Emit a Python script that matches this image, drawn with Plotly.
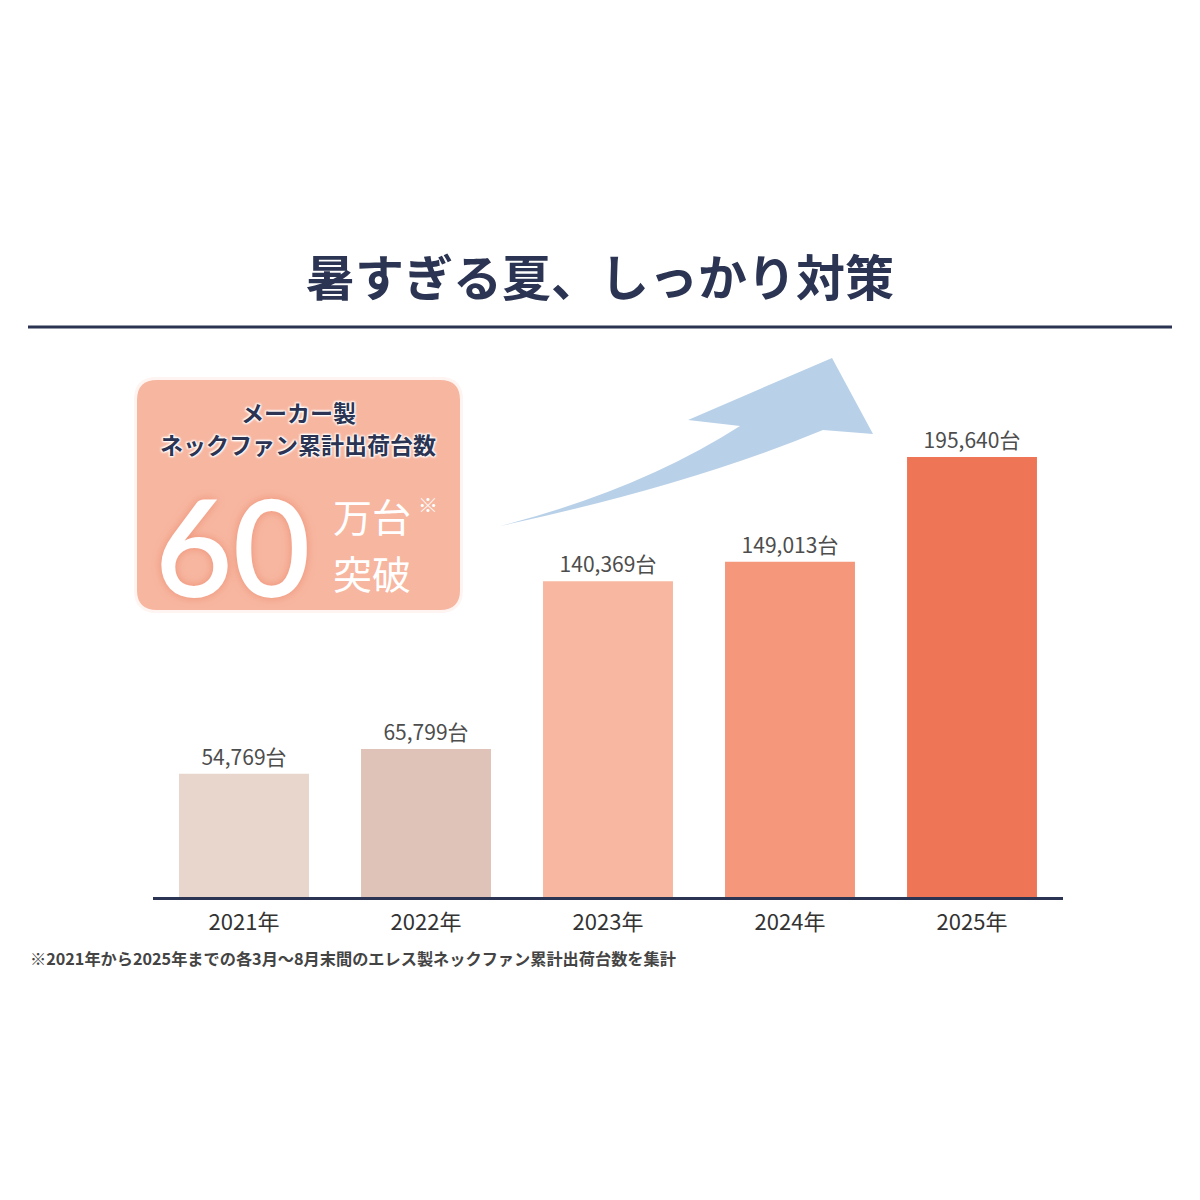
import plotly.graph_objects as go

# chart data
years = ["2021年", "2022年", "2023年", "2024年", "2025年"]
units = [54769, 65799, 140369, 149013, 195640]
bar_colors = ["#E8D6CD", "#DFC3B8", "#F8B7A0", "#F4977B", "#EE7657"]

title_text = "暑すぎる夏、しっかり対策"
badge_lines = ["メーカー製", "ネックファン累計出荷台数"]
badge_big = "60"
footnote = "※2021年から2025年までの各3月～8月末間のエレス製ネックファン累計出荷台数を集計"

# page has an 8px body margin, so the figure is a bit smaller and coordinates are shifted
OFF = 8
W = H = 1200 - OFF
JP = "Noto Sans CJK JP"
NAVY = "#2B3452"


def px(x):
    return (x - OFF) / W


def py(y):
    return 1 - (y - OFF) / H


def rounded_rect(x0, y0, x1, y1, r):
    return (
        f"M {px(x0 + r)},{py(y0)} L {px(x1 - r)},{py(y0)} "
        f"Q {px(x1)},{py(y0)} {px(x1)},{py(y0 + r)} L {px(x1)},{py(y1 - r)} "
        f"Q {px(x1)},{py(y1)} {px(x1 - r)},{py(y1)} L {px(x0 + r)},{py(y1)} "
        f"Q {px(x0)},{py(y1)} {px(x0)},{py(y1 - r)} L {px(x0)},{py(y0 + r)} "
        f"Q {px(x0)},{py(y0)} {px(x0 + r)},{py(y0)} Z"
    )


def arrow_path():
    p = lambda x, y: f"{px(x):.4f},{py(y):.4f}"
    return (
        f"M {p(500, 526)} Q {p(640, 490)} {p(740, 426)} L {p(688, 420)} L {p(832, 358)} "
        f"L {p(873, 434)} L {p(823, 430)} Q {p(690, 485)} {p(500, 526)} Z"
    )


# plot area: baseline at y=897, 440px for the largest bar
base_y, top_y = 897, 357
ymax = (base_y - top_y) * max(units) / 440

fig = go.Figure()
fig.add_trace(
    go.Bar(
        x=years,
        y=units,
        marker=dict(color=bar_colors, line=dict(width=0)),
        text=[f"{v:,}台" for v in units],
        textposition="outside",
        textfont=dict(family=JP, size=21, color="#4D4D4D"),
        constraintext="none",
        cliponaxis=False,
        hoverinfo="skip",
    )
)

shapes = [
    # header rule
    dict(type="line", xref="paper", yref="paper", x0=px(28), x1=px(1172), y0=py(327), y1=py(327),
         line=dict(color=NAVY, width=3)),
    # badge glow + badge
    dict(type="path", xref="paper", yref="paper", path=rounded_rect(134, 377, 463, 613, 23),
         fillcolor="rgba(246,180,158,0.15)", line=dict(width=0), layer="below"),
    dict(type="path", xref="paper", yref="paper", path=rounded_rect(137, 380, 460, 610, 20),
         fillcolor="#F7B6A0", line=dict(width=0), layer="below"),
    # rising arrow
    dict(type="path", xref="paper", yref="paper", path=arrow_path(),
         fillcolor="#B9D1E8", line=dict(width=0), layer="below"),
]

outline = "1px 1px 2px #ffffff, -1px -1px 2px #ffffff, 1px -1px 2px #ffffff, -1px 1px 2px #ffffff"


def note(text, x, y, size, color, family=JP, xanchor="center", shadow=None, weight=None):
    font = dict(family=family, size=size, color=color)
    if shadow:
        font["shadow"] = shadow
    if weight:
        font["weight"] = weight
    return dict(text=text, x=px(x), y=py(y), xref="paper", yref="paper", xanchor=xanchor,
                yanchor="middle", showarrow=False, font=font)


annotations = [
    note(f"<b>{title_text}</b>", 600, 275, 49, NAVY),
    note(f"<b>{badge_lines[0]}</b>", 298, 412, 23, NAVY, shadow=outline),
    note(f"<b>{badge_lines[1]}</b>", 298, 444, 23, NAVY, shadow=outline),
    note(badge_big, 232, 545, 134, "#FFFFFF", family="Lato", weight=600,
         shadow="0px 0px 8px rgba(235,130,100,0.7)"),
    note("万台", 372, 515, 39, "#FFFFFF"),
    note("突破", 372, 572, 39, "#FFFFFF"),
    note("※", 428, 505, 20, "#FFFFFF"),
    note(f"<b>{footnote}</b>", 28, 958, 16.2, "#444444", xanchor="left"),
]

fig.update_layout(
    width=W,
    height=H,
    margin=dict(l=0, r=0, t=0, b=0),
    paper_bgcolor="#FFFFFF",
    plot_bgcolor="#FFFFFF",
    showlegend=False,
    bargap=0.286,
    shapes=shapes,
    annotations=annotations,
    xaxis=dict(
        domain=[px(153), px(1063)],
        range=[-0.5, 4.5],
        showline=True,
        linecolor=NAVY,
        linewidth=3,
        showgrid=False,
        zeroline=False,
        ticks="",
        tickfont=dict(family=JP, size=22, color="#333333"),
        ticklabelstandoff=4,
        fixedrange=True,
    ),
    yaxis=dict(
        domain=[py(base_y), py(top_y)],
        range=[0, ymax],
        visible=False,
        fixedrange=True,
    ),
)

fig.write_html("out.html")
